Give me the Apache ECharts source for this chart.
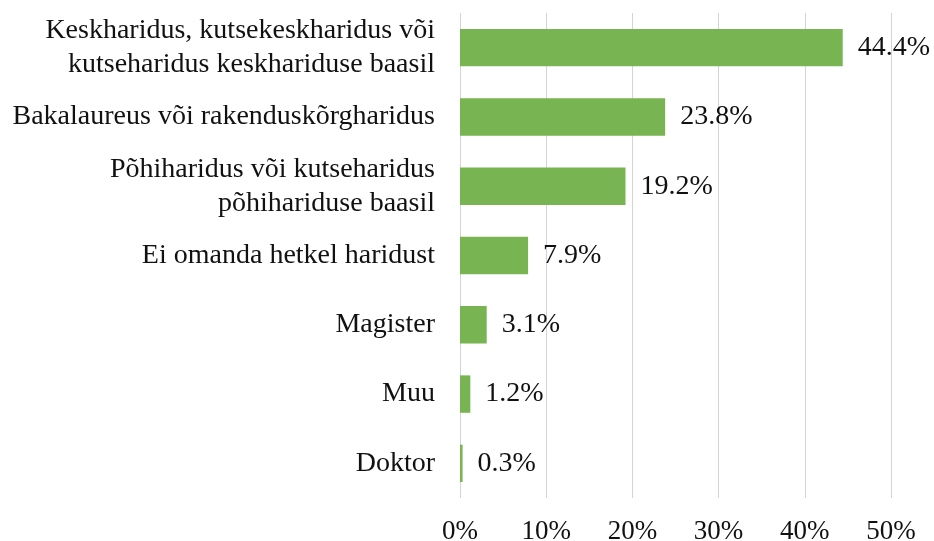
<!DOCTYPE html>
<html>
<head>
<meta charset="utf-8">
<script src="https://cdn.jsdelivr.net/npm/echarts@6/dist/echarts.min.js"></script>
<style>
  html, body { margin: 0; padding: 0; background: #fff; }
  #chart { width: 934px; height: 541px; }
</style>
</head>
<body>
<div id="chart"></div>
<script>
const categories = [
    'Keskharidus, kutsekeskharidus või\nkutseharidus keskhariduse baasil',
    'Bakalaureus või rakenduskõrgharidus',
    'Põhiharidus või kutseharidus\npõhihariduse baasil',
    'Ei omanda hetkel haridust',
    'Magister',
    'Muu',
    'Doktor'
];
const shares = [44.4, 23.8, 19.2, 7.9, 3.1, 1.2, 0.3];
const xTicks = [0, 10, 20, 30, 40, 50];

const font = '"Liberation Serif", "Times New Roman", serif';
const chart = echarts.init(document.getElementById('chart'));

chart.setOption({
    animation: false,
    grid: {left: 460, right: 43, top: 13, bottom: 43, containLabel: false, outerBoundsMode: 'none'},
    xAxis: {
        type: 'value',
        min: xTicks[0],
        max: xTicks[xTicks.length - 1],
        interval: 10,
        axisLine: {show: false},
        axisTick: {show: false},
        splitLine: {lineStyle: {color: '#d4d4d4', width: 1}},
        axisLabel: {
            margin: 20,
            formatter: v => v + '%',
            fontFamily: font,
            fontSize: 27,
            color: '#111'
        }
    },
    yAxis: {
        type: 'category',
        inverse: true,
        data: categories,
        axisLine: {show: false},
        axisTick: {show: false},
        axisLabel: {
            margin: 25,
            fontFamily: font,
            fontSize: 28,
            lineHeight: 34,
            color: '#111',
            align: 'right'
        }
    },
    series: [{
        type: 'bar',
        data: shares,
        barCategoryGap: '46%',
        itemStyle: {color: '#78b552'},
        label: {
            show: true,
            position: 'right',
            distance: 15,
            formatter: p => p.value.toFixed(1) + '%',
            fontFamily: font,
            fontSize: 28,
            color: '#111'
        }
    }]
});
</script>
</body>
</html>
